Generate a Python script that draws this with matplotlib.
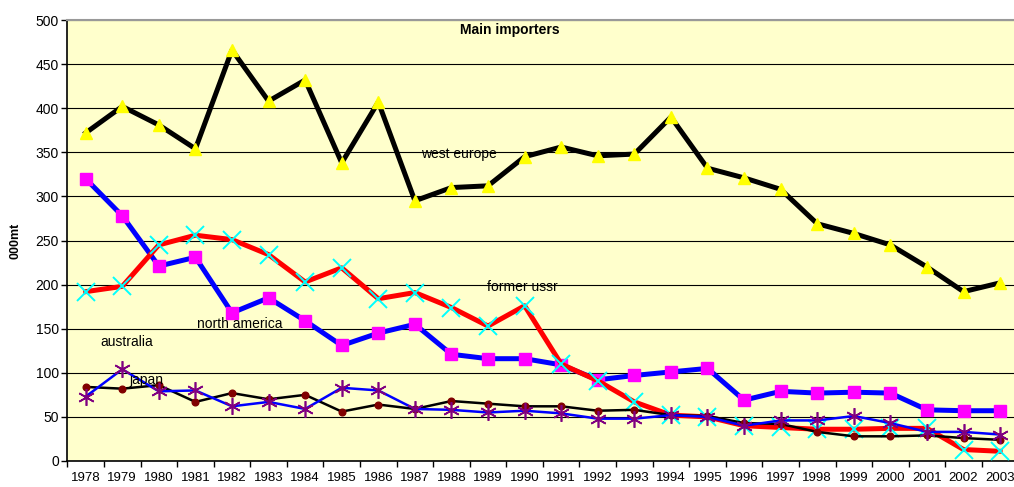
import matplotlib
matplotlib.use("Agg")
import matplotlib.pyplot as plt
import numpy as np

plt.rcParams['font.family'] = ['Liberation Sans', 'DejaVu Sans']

years = [str(y) for y in range(1978, 2004)]

west_europe = [372, 402, 381, 354, 466, 408, 432, 338, 407, 295, 310, 312, 345,
               356, 346, 348, 390, 332, 321, 308, 269, 258, 245, 220, 192, 202]
north_america = [320, 278, 221, 231, 168, 185, 159, 131, 145, 155, 121, 116, 116,
                 109, 92, 97, 101, 105, 69, 79, 77, 78, 77, 58, 57, 57]
former_ussr = [192, 198, 245, 256, 251, 234, 203, 219, 184, 191, 174, 153, 176,
               110, 91, 67, 52, 50, 40, 38, 36, 36, 37, 37, 13, 11]
australia = [84, 82, 86, 67, 77, 70, 75, 56, 64, 59, 68, 65, 62,
             62, 57, 58, 52, 51, 43, 42, 33, 28, 28, 29, 26, 24]
japan = [73, 104, 79, 80, 62, 67, 59, 83, 80, 59, 58, 55, 57,
         54, 48, 48, 52, 50, 40, 46, 46, 51, 43, 33, 33, 30]

x = np.arange(len(years))

fig = plt.figure(figsize=(10.14, 4.87), dpi=100)
ax = fig.add_axes([67.4 / 1014, 1 - 461 / 487, 951 / 1014, 441 / 487])
ax.set_facecolor('#FFFFCC')

ax.plot(x, north_america, color='#0000FF', lw=3.6, marker='s', ms=8,
        mfc='#FF00FF', mec='#FF00FF', zorder=3)
ax.plot(x, former_ussr, color='#FF0000', lw=3.6, marker='x', ms=13,
        mec='#00FFFF', mew=1.4, zorder=4)
ax.plot(x, west_europe, color='black', lw=3.6, marker='^', ms=8.5,
        mfc='#FFFF00', mec='#FFFF00', zorder=5)
ax.plot(x, australia, color='black', lw=1.8, marker='o', ms=4.8,
        mfc='#800000', mec='#800000', zorder=6)
ax.plot(x, japan, color='#0000FF', lw=1.8, marker=(6, 2, 0), ms=12,
        mec='#800080', mew=1.2, zorder=7)

ax.set_xlim(-0.5, len(years) - 0.5)
ax.set_ylim(0, 500)
ax.set_yticks(range(0, 501, 50))
ax.set_xticks(x)
ax.set_xticklabels(years, fontsize=9.5)
ax.set_xticks(np.arange(-0.5, len(years), 1), minor=True)
ax.tick_params(axis='x', which='major', length=0, pad=8)
ax.tick_params(axis='x', which='minor', length=4, width=1, direction='out')
ax.tick_params(axis='y', length=4, width=1, direction='out', labelsize=10, pad=2)

ax.grid(axis='y', color='black', lw=0.8, zorder=1)
ax.set_axisbelow(True)
ax.spines['right'].set_visible(False)
ax.spines['top'].set_color('#999999')
ax.spines['top'].set_linewidth(1.5)
ax.spines['left'].set_linewidth(1.2)
ax.spines['bottom'].set_linewidth(1.2)

ax.set_ylabel('000mt', fontsize=9, fontweight='bold', labelpad=10)
ax.text(0.465, 0.977, 'Main importers', transform=ax.transAxes, ha='center',
        va='center', fontsize=10, fontweight='bold')

ax.text(9.16, 348, 'west europe', fontsize=10, va='center', zorder=8)
ax.text(10.96, 197, 'former ussr', fontsize=10, va='center', zorder=8)
ax.text(3.03, 155, 'north america', fontsize=10, va='center', zorder=8)
ax.text(0.41, 135, 'australia', fontsize=10, va='center', zorder=8)
ax.text(1.2, 92, 'japan', fontsize=10, va='center', zorder=8)

fig.savefig('out.png', dpi=100)
